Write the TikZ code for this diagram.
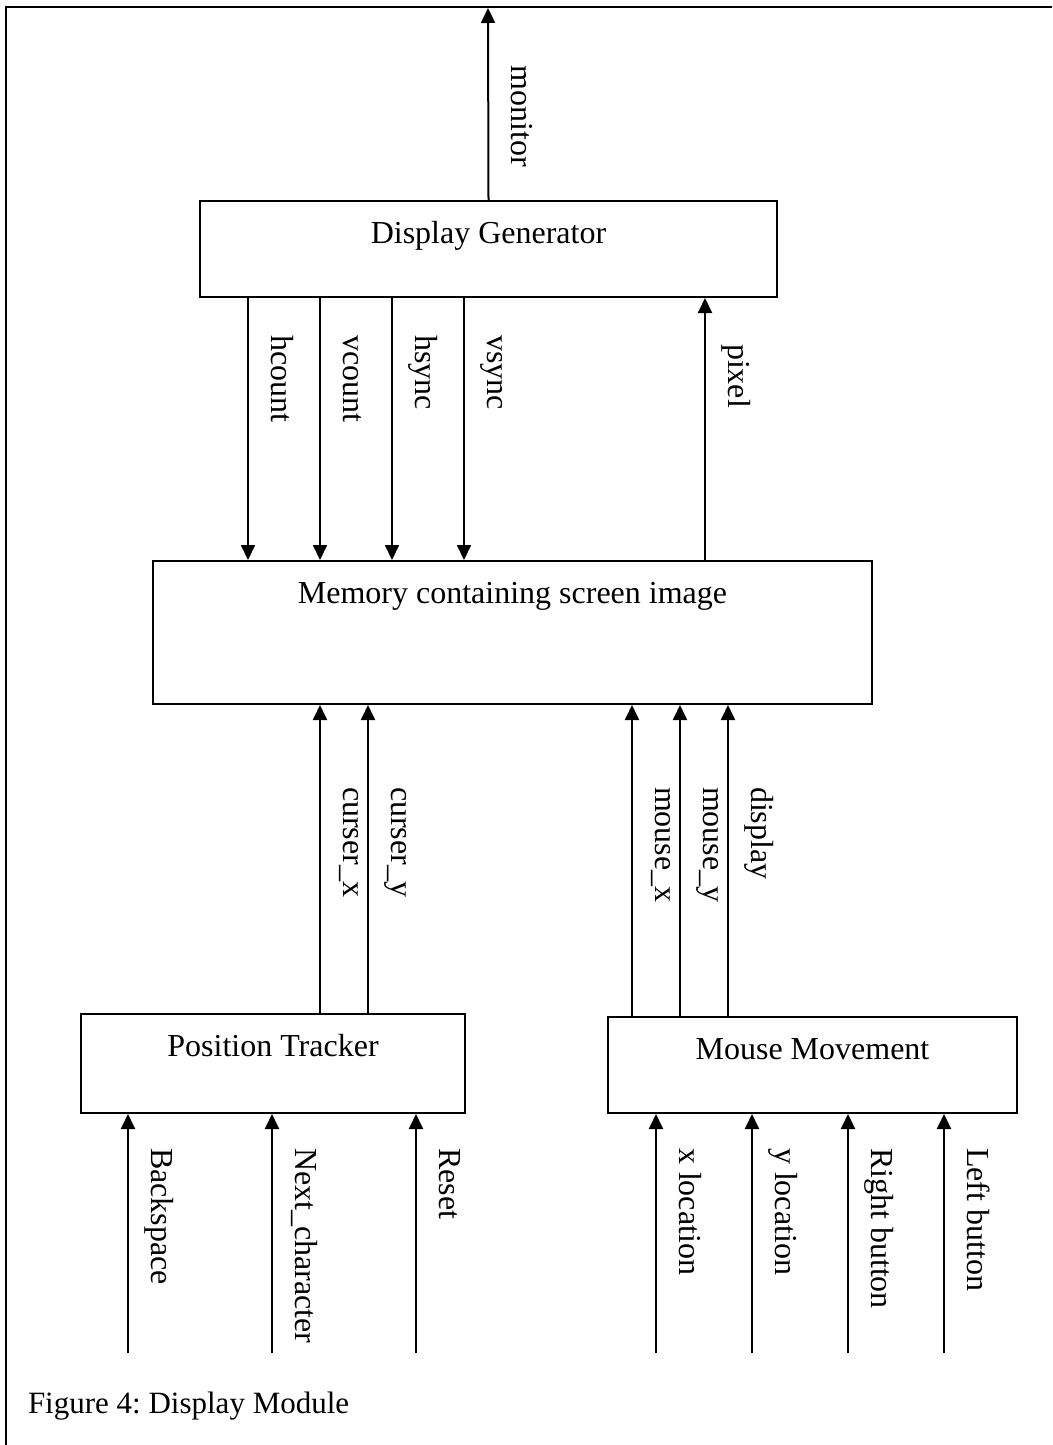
\documentclass[tikz,border=0pt]{standalone}
\usepackage{fontspec}
\setmainfont{Liberation Serif}
\usetikzlibrary{positioning,arrows.meta}
\frenchspacing

\begin{document}
\begin{tikzpicture}[x=1pt,y=-1pt,>={Triangle[length=15pt,width=14pt]},line width=2pt,
  every node/.style={font=\fontsize{32}{38}\selectfont},
  blk/.style={draw,anchor=north west,inner sep=0pt,text height=42pt},
  sig/.style={rotate=-90,anchor=west,inner sep=0pt,text height=22pt,text depth=7pt}]
\useasboundingbox (0,0) rectangle (1052,1445);
\draw (1052,7) -- (6,7) -- (6,1445);

% blocks
\node[blk,minimum width=577pt,text depth=54pt] (gen) at (199,200) {Display Generator};
\node[blk,minimum width=719pt,text depth=101pt] (mem) at (152,560) {Memory containing screen image};
\node[blk,minimum width=384pt,text depth=57pt] (pos) at (80,1013) {Position Tracker};
\node[blk,minimum width=409pt,text depth=54pt] (mouse) at (607,1016) {Mouse Movement};

% monitor output
\coordinate (mon) at (488,8);
\draw[->] (gen.north) -- (mon);
\node[sig] (lmon) at (519,65) {monitor};

% generator to memory
\foreach \x/\t in {248/hcount,320/vcount,392/hsync,464/vsync}
{
  \draw[->] (\x,0 |- gen.south) -- (\x,0 |- mem.north);
  \node[sig] (l\t) at (\x+31,334) {\t};
}
\draw[->] (705,0 |- mem.north) -- (705,0 |- gen.south);
\node[sig] (lpix) at (736,343) {pixel};

% trackers to memory
\foreach \x/\t/\n in {320/curser\_x/cx,368/curser\_y/cy}
{
  \draw[->] (\x,0 |- pos.north) -- (\x,0 |- mem.south);
  \node[sig] (l\n) at (\x+31,786) {\t};
}
\foreach \x/\t/\n in {632/mouse\_x/mx,680/mouse\_y/my,728/display/dsp}
{
  \draw[->] (\x,0 |- mouse.north) -- (\x,0 |- mem.south);
  \node[sig] (l\n) at (\x+31,786) {\t};
}

% inputs
\foreach \x/\t/\n in {128/Backspace/bs,272/Next\_character/nc,416/Reset/rst}
{
  \coordinate (i\n) at (\x,1353);
  \draw[->] (i\n) -- (i\n |- pos.south);
  \node[sig] (l\n) at (\x+31,1147) {\t};
}
\foreach \x/\t/\n in {656/x location/xl,752/y location/yl,848/Right button/rb,944/Left button/lb}
{
  \coordinate (i\n) at (\x,1353);
  \draw[->] (i\n) -- (i\n |- mouse.south);
  \node[sig] (l\n) at (\x+31,1147) {\t};
}

\node[anchor=base west,inner sep=0pt,font=\fontsize{31}{36}\selectfont] (cap) at (27,1413) {Figure 4: Display Module};
\end{tikzpicture}
\end{document}
